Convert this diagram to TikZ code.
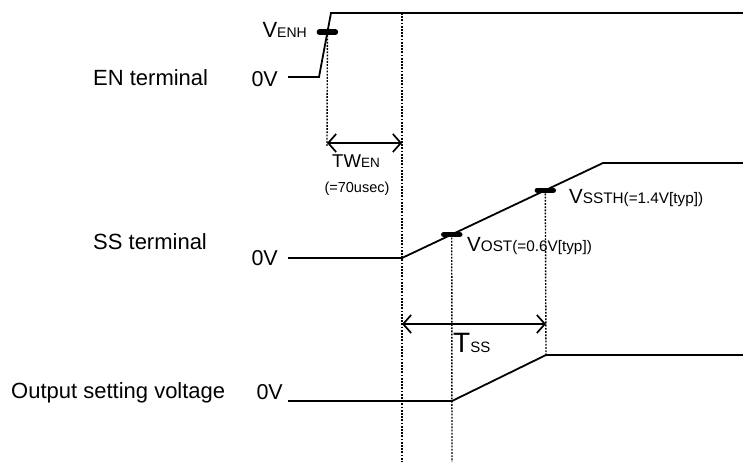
\documentclass[tikz,border=0pt]{standalone}
\usepackage{fontspec}
\setmainfont{Liberation Sans}
\usetikzlibrary{arrows.meta,calc}
\newcommand{\fs}[1]{\fontsize{#1}{#1}\selectfont}
\begin{document}
\begin{tikzpicture}[x=1pt,y=-1pt,
  sig/.style={line width=1.8pt},
  guide/.style={line width=1.4pt, dash pattern=on 1.8pt off 1.4pt},
  thbar/.style={line width=5.5pt, line cap=round},
  lbl/.style={inner sep=0pt, font=\fs{22}},
  dimarrow/.style={line width=1.7pt, {Straight Barb[length=8pt,width=18pt]}-{Straight Barb[length=8pt,width=18pt]}}]
\useasboundingbox (0,0) rectangle (743,462);
% waveform coordinates
\coordinate (en0) at (288,77);
\coordinate (en1) at (319,77);
\coordinate (en2) at (331,13);
\coordinate (en3) at (743,13);
\coordinate (ss0) at (288,258);
\coordinate (ss1) at (402,258);
\coordinate (ss2) at (603,163);
\coordinate (ss3) at (743,163);
\coordinate (o0) at (288,401);
\coordinate (o1) at (452,401);
\coordinate (o2) at (546,355);
\coordinate (o3) at (743,355);
\coordinate (venh) at ($(en1)!0.70!(en2)$);
\coordinate (vost) at ($(ss1)!0.2475!(ss2)$);
\coordinate (vssth) at ($(ss1)!0.7129!(ss2)$);
\coordinate (twl) at (327,143);
\coordinate (twr) at (402,143);
\coordinate (enbot) at (327,147);
\coordinate (g1top) at (402,13);
\coordinate (g1bot) at (402,462);
\coordinate (g2bot) at (452,462);
\coordinate (tsl) at (402,324);
\coordinate (tsr) at (546,324);
% guides
\draw[guide] (venh) -- (enbot);
\draw[guide] (g1top) -- (g1bot);
\draw[guide] (vost) -- (g2bot);
\draw[guide] (vssth) -- (o2);
% waveforms
\draw[sig] (en0) -- (en1) -- (en2) -- (en3);
\draw[sig] (ss0) -- (ss1) -- (ss2) -- (ss3);
\draw[sig] (o0) -- (o1) -- (o2) -- (o3);
% threshold bars
\draw[thbar] ($(venh)+(-8,0)$) -- ($(venh)+(8,0)$);
\draw[thbar] ($(vost)+(-8,0)$) -- ($(vost)+(8,0)$);
\draw[thbar] ($(vssth)+(-8,0)$) -- ($(vssth)+(8,0)$);
% dimension arrows
\draw[dimarrow] (twl) -- (twr);
\draw[dimarrow] (tsl) -- (tsr);
% labels
\node[lbl, anchor=base west] (lEN) at (93,86) {EN terminal};
\node[lbl, anchor=base west] (lSS) at (93,249) {SS terminal};
\node[lbl, anchor=base west] (lOut) at (11,398) {Output setting voltage};
\node[lbl, anchor=base east, font=\fs{21.5}] (z1) at (278,86.5) {0V};
\node[lbl, anchor=base east, font=\fs{21.5}] (z2) at (278,265) {0V};
\node[lbl, anchor=base east, font=\fs{21.5}] (z3) at (283,399) {0V};
\node[lbl, anchor=base east] (tVENH) at (307,38) {V{\fs{14}ENH}};
\node[inner sep=0pt, anchor=base] (tTW) at (356,168) {\fs{18.5}TW{\fs{13.5}EN}};
\node[inner sep=0pt, anchor=base] (tTWv) at (357,193) {\fs{14.5}(=70usec)};
\node[inner sep=0pt, anchor=base west] (tVOST) at (467,251) {\fs{20.5}V{\fs{15.3}OST(=0.6V[typ])}};
\node[inner sep=0pt, anchor=base west] (tVSSTH) at (569,204) {\fs{20.5}V{\fs{15.3}SSTH(=1.4V[typ])}};
\node[inner sep=0pt, anchor=base west] (tTss) at (453,352) {\fs{28}T{\fs{15}SS}};
\end{tikzpicture}
\end{document}
